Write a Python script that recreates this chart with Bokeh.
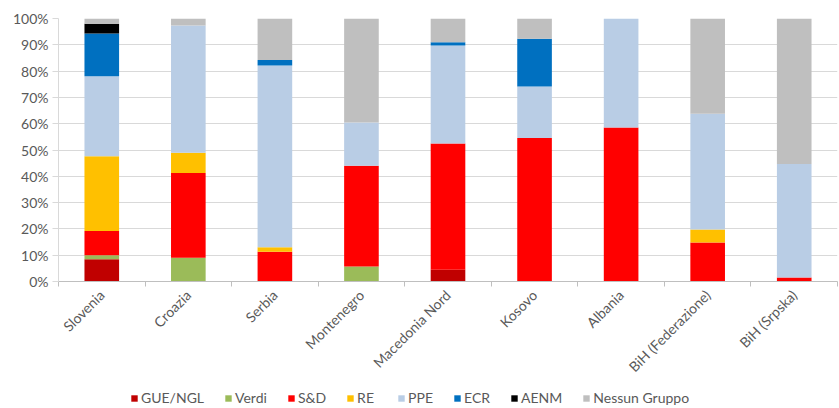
from bokeh.plotting import figure
from bokeh.layouts import column
from bokeh.models import (ColumnDataSource, FixedTicker, PrintfTickFormatter,
                          Legend, LegendItem, Range1d)
from bokeh.embed import file_html
from bokeh.resources import INLINE
import math

# Share of seats by European political group, per country (percent)
countries = ["Slovenia", "Croazia", "Serbia", "Montenegro", "Macedonia Nord",
             "Kosovo", "Albania", "BiH (Federazione)", "BiH (Srpska)"]
gue_ngl = [8.5, 0, 0, 0, 4.5, 0, 0, 0, 0]
verdi = [1.5, 9.0, 0, 5.7, 0, 0, 0, 0, 0]
sd = [9.2, 32.3, 11.3, 38.3, 48.0, 54.6, 58.6, 14.8, 1.5]
re = [28.4, 7.7, 1.7, 0, 0, 0, 0, 5.0, 0]
ppe = [30.4, 48.3, 69.1, 16.5, 37.2, 19.5, 41.4, 44.0, 43.2]
ecr = [16.3, 0, 2.1, 0, 1.3, 18.2, 0, 0, 0]
aenm = [3.7, 0, 0, 0, 0, 0, 0, 0, 0]
nessun = [2.0, 2.7, 15.8, 39.5, 9.0, 7.7, 0, 36.2, 55.3]

groups = ["GUE/NGL", "Verdi", "S&D", "RE", "PPE", "ECR", "AENM", "Nessun Gruppo"]
keys = ["gue", "verdi", "sd", "re", "ppe", "ecr", "aenm", "nessun"]
colors = ["#C00000", "#9BBB59", "#FF0000", "#FFC000", "#B9CDE5", "#0070C0",
          "#000000", "#BFBFBF"]

xpos = [i + 0.5 for i in range(len(countries))]
source = ColumnDataSource(dict(x=xpos, gue=gue_ngl, verdi=verdi, sd=sd, re=re,
                               ppe=ppe, ecr=ecr, aenm=aenm, nessun=nessun))

FONT = "Lato"
TXT = "#595959"

p = figure(frame_width=779, frame_height=263, output_backend="svg",
           toolbar_location=None,
           x_range=Range1d(0, len(countries)), y_range=Range1d(0, 100),
           min_border_left=58, min_border_right=2, min_border_top=18,
           min_border_bottom=106)
p.outline_line_color = None
p.background_fill_color = "white"

p.vbar_stack(keys, x="x", width=0.4, source=source, color=colors,
             line_color=None)

# y axis: percentages every 10
p.yaxis.ticker = FixedTicker(ticks=list(range(0, 101, 10)))
p.yaxis.formatter = PrintfTickFormatter(format="%d%%")
p.yaxis.axis_line_color = "#D9D9D9"
p.yaxis.major_tick_line_color = "#D9D9D9"
p.yaxis.major_tick_out = 6
p.yaxis.major_tick_in = 0
p.yaxis.minor_tick_line_color = None
p.yaxis.major_label_text_font = FONT
p.yaxis.major_label_text_font_size = "14px"
p.yaxis.major_label_text_color = TXT
p.yaxis.major_label_standoff = 4
p.ygrid.ticker = FixedTicker(ticks=list(range(10, 101, 10)))
p.ygrid.grid_line_color = "#D9D9D9"
p.xgrid.grid_line_color = None

# x axis: country names at bar centers, tick marks between categories
p.xaxis.ticker = FixedTicker(ticks=xpos, minor_ticks=list(range(len(countries) + 1)))
p.xaxis.major_label_overrides = {x: c for x, c in zip(xpos, countries)}
p.xaxis.major_tick_line_color = None
p.xaxis.major_tick_out = 0
p.xaxis.major_tick_in = 0
p.xaxis.minor_tick_line_color = "#BFBFBF"
p.xaxis.minor_tick_out = 5
p.xaxis.minor_tick_in = 0
p.xaxis.axis_line_color = "#BFBFBF"
p.xaxis.major_label_orientation = math.pi / 4
p.xaxis.major_label_text_font = FONT
p.xaxis.major_label_text_font_size = "14px"
p.xaxis.major_label_text_color = TXT
p.xaxis.major_label_standoff = 6

# legend strip: a small figure with one swatch renderer per group,
# each placed outside the strip's visible range
lg = figure(frame_width=839, frame_height=21, output_backend="svg",
            toolbar_location=None, min_border=0,
            x_range=Range1d(0, 1), y_range=Range1d(0, 1))
lg.axis.visible = False
lg.grid.visible = False
lg.outline_line_color = None
swatches = [lg.vbar(x=[-5], top=[0], width=0.1, color=c, line_color=None)
            for c in colors]

legend = Legend(items=[LegendItem(label=g, renderers=[r]) for g, r in zip(groups, swatches)],
                orientation="horizontal", location=(130, 2),
                label_text_font=FONT, label_text_font_size="14px",
                label_text_color=TXT, glyph_width=8, glyph_height=8,
                spacing=20, label_standoff=3, padding=0, margin=0,
                label_height=16, border_line_color=None,
                background_fill_alpha=0)
lg.add_layout(legend, "center")

layout = column(p, lg, spacing=0)
open("out.html", "w").write(file_html(layout, INLINE))
